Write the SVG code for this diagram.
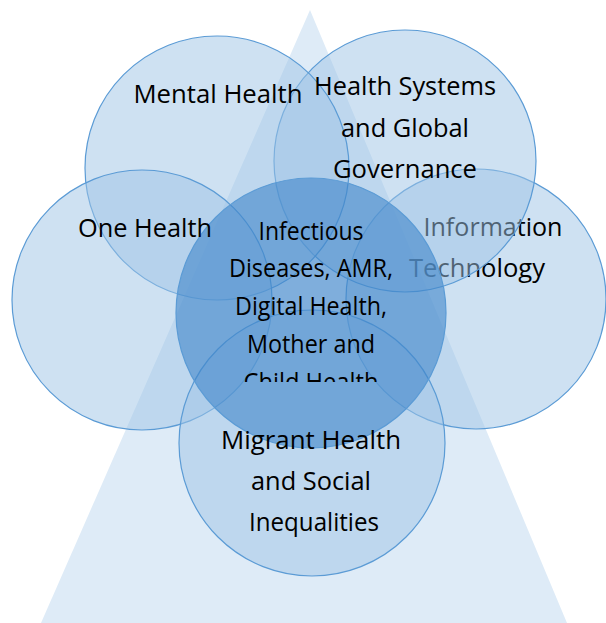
<svg xmlns="http://www.w3.org/2000/svg" width="606" height="623" viewBox="0 0 606 623">
  <defs>
    <style>
      .c { fill: #9DC3E6; fill-opacity: 0.5; stroke: #5B9BD5; stroke-width: 1.2; }
      .cc { fill: #3F86C9; fill-opacity: 0.6; stroke: #5B9BD5; stroke-width: 1.2; }
      .t { font-family: "Open Sans", "Noto Sans", "Liberation Sans", sans-serif; font-size: 25px; fill: #000; text-anchor: middle; }
    </style>
    <clipPath id="clipCenter">
      <rect x="150" y="200" width="320" height="182"/>
    </clipPath>
  </defs>
  <rect width="606" height="623" fill="#FFFFFF"/>
  <polygon id="triangle" points="310,10 41,623 567,623" fill="#DEEBF7"/>

  <g id="node-it">
    <circle class="c" cx="476" cy="299" r="130"/>
    <text class="t" x="493" y="236" textLength="139" lengthAdjust="spacingAndGlyphs">Information</text>
    <text class="t" x="477" y="277" textLength="136" lengthAdjust="spacingAndGlyphs">Technology</text>
  </g>
  <g id="node-hs">
    <circle class="c" cx="405" cy="161" r="131"/>
  </g>
  <g id="node-mental">
    <circle class="c" cx="217" cy="168" r="132"/>
  </g>
  <g id="node-one">
    <circle class="c" cx="142" cy="300" r="130"/>
  </g>
  <g id="node-migrant">
    <circle class="c" cx="312" cy="443" r="133"/>
  </g>
  <g id="node-center">
    <circle class="cc" cx="311" cy="313" r="135"/>
  </g>

  <g id="labels">
    <g id="label-mental"><text class="t" x="218" y="103" textLength="169" lengthAdjust="spacingAndGlyphs">Mental Health</text></g>
    <g id="label-hs">
      <text class="t" x="405" y="95" textLength="182" lengthAdjust="spacingAndGlyphs">Health Systems</text>
      <text class="t" x="405" y="137" textLength="128" lengthAdjust="spacingAndGlyphs">and Global</text>
      <text class="t" x="405" y="178" textLength="144" lengthAdjust="spacingAndGlyphs">Governance</text>
    </g>
    <g id="label-one"><text class="t" x="145" y="237" textLength="134" lengthAdjust="spacingAndGlyphs">One Health</text></g>
    <g id="label-migrant">
      <text class="t" x="311" y="449" textLength="180" lengthAdjust="spacingAndGlyphs">Migrant Health</text>
      <text class="t" x="311" y="490" textLength="120" lengthAdjust="spacingAndGlyphs">and Social</text>
      <text class="t" x="314" y="531" textLength="130" lengthAdjust="spacingAndGlyphs">Inequalities</text>
    </g>
    <g id="label-center" clip-path="url(#clipCenter)">
      <text class="t" x="311" y="240" textLength="105" lengthAdjust="spacingAndGlyphs">Infectious</text>
      <text class="t" x="311" y="277" textLength="164" lengthAdjust="spacingAndGlyphs">Diseases, AMR,</text>
      <text class="t" x="311" y="315" textLength="152" lengthAdjust="spacingAndGlyphs">Digital Health,</text>
      <text class="t" x="311" y="353" textLength="128" lengthAdjust="spacingAndGlyphs">Mother and</text>
      <text class="t" x="311" y="391" textLength="135" lengthAdjust="spacingAndGlyphs">Child Health</text>
    </g>
  </g>
</svg>
